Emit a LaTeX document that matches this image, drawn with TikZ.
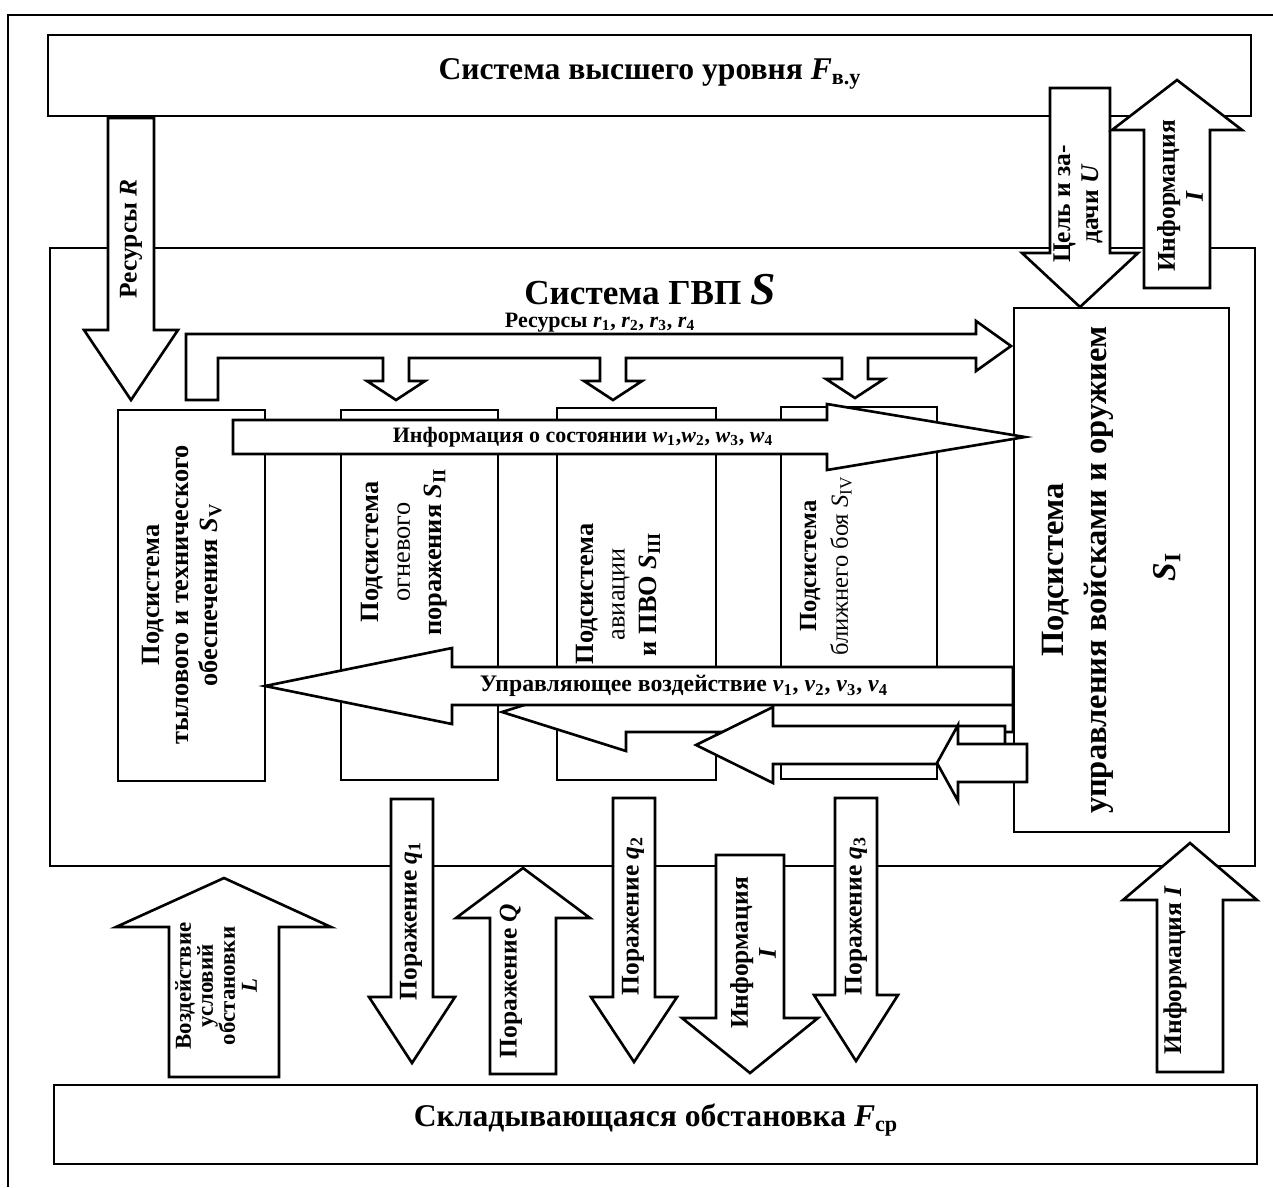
\documentclass[tikz,border=0pt]{standalone}
\usepackage{fontspec}
\setmainfont{Liberation Serif}
\usetikzlibrary{fit}
\newcommand{\symb}[2]{\textit{#1}\textsubscript{#2}}

\begin{document}
\begin{tikzpicture}[
    x=0.02cm, y=-0.02cm,
    line width=1.5pt,
    boxNode/.style={rectangle, draw, fill=white, inner sep=0pt, line width=1.5pt},
    blockArrow/.style={draw, fill=white, line width=1.5pt, line join=miter},
    titleText/.style={font=\fontsize{18}{21}\selectfont\bfseries, inner sep=0pt},
    subText/.style={font=\fontsize{15}{18}\selectfont\bfseries, align=center, rotate=90, inner sep=0pt},
    arrowText/.style={font=\fontsize{14.5}{16}\selectfont\bfseries, align=center, rotate=90, inner sep=0pt},
    busText/.style={font=\fontsize{12.5}{14}\selectfont\bfseries, inner sep=0pt}
  ]
    \useasboundingbox (0,0) rectangle (1273,1187);

    % page frame
    \draw (8,1187) |- (1273,15);

    % Outer systems and the GVP frame
    \node[boxNode, fit={(48,35) (1251,116)}] (upper) {};
    \node[boxNode, fit={(50,248) (1255,866)}] (gvp) {};
    \node[boxNode, fit={(54,1085) (1257,1164)}] (env) {};

    % Subsystems
    \node[boxNode, fit={(118,410) (265,781)}] (sv) {};
    \node[boxNode, fit={(341,410) (498,780)}] (sii) {};
    \node[boxNode, fit={(557,408) (716,780)}] (siii) {};
    \node[boxNode, fit={(781,407) (937,779)}] (siv) {};
    \node[boxNode, fit={(1014,308) (1229,832)}] (si) {};

    % Flows between upper system and GVP
    \draw[blockArrow] (108,118) -- (108,330) -- (84,330) -- (131,400) -- (178,330) -- (154,330) -- (154,118) -- cycle;
    \draw[blockArrow] (1050,88) -- (1050,253) -- (1022,253) -- (1080,307) -- (1138,253) -- (1110,253) -- (1110,88) -- cycle;
    \draw[blockArrow] (1144,288) -- (1144,130) -- (1112,130) -- (1177,80) -- (1242,130) -- (1210,130) -- (1210,288) -- cycle;

    % Resource bus r1..r4
    \draw[blockArrow] (186,400) -- (186,334) -- (976,334) -- (976,321) -- (1011,346) -- (976,371) -- (976,358)
      -- (868,358) -- (868,379) -- (884,379) -- (855,398) -- (826,379) -- (842,379) -- (842,358)
      -- (626,358) -- (626,381) -- (642,381) -- (613,400) -- (584,381) -- (600,381) -- (600,358)
      -- (409,358) -- (409,381) -- (425,381) -- (396,400) -- (367,381) -- (383,381) -- (383,358)
      -- (218,358) -- (218,400) -- cycle;

    % State information w1..w4
    \draw[blockArrow] (233,420) -- (827,420) -- (827,404) -- (1025,437) -- (827,470) -- (827,454) -- (233,454) -- cycle;

    % Control actions v1..v4
    \draw[blockArrow] (1013,692) -- (626,692) -- (626,673) -- (502,712) -- (626,751) -- (626,732) -- (1013,732) -- cycle;
    \draw[blockArrow] (1005,726) -- (773,726) -- (773,707) -- (696,745) -- (773,783) -- (773,764) -- (1005,764) -- cycle;
    \draw[blockArrow] (1027,744) -- (958,744) -- (958,725) -- (937,763) -- (958,801) -- (958,782) -- (1027,782) -- cycle;
    \draw[blockArrow] (1013,667) -- (452,667) -- (452,648) -- (265,686) -- (452,724) -- (452,705) -- (1013,705) -- cycle;

    % Flows between GVP and the environment
    \draw[blockArrow] (169,1077) -- (169,927) -- (116,927) -- (224,878) -- (331,927) -- (279,927) -- (279,1077) -- cycle;
    \draw[blockArrow] (391,799) -- (391,997) -- (369,997) -- (412,1063) -- (455,997) -- (433,997) -- (433,799) -- cycle;
    \draw[blockArrow] (490,1074) -- (490,918) -- (456,918) -- (523,868) -- (590,918) -- (556,918) -- (556,1074) -- cycle;
    \draw[blockArrow] (613,798) -- (613,997) -- (591,997) -- (634,1062) -- (677,997) -- (655,997) -- (655,798) -- cycle;
    \draw[blockArrow] (716,855) -- (716,1018) -- (682,1018) -- (750,1073) -- (818,1018) -- (784,1018) -- (784,855) -- cycle;
    \draw[blockArrow] (835,798) -- (835,995) -- (814,995) -- (856,1061) -- (898,995) -- (877,995) -- (877,798) -- cycle;
    \draw[blockArrow] (1157,1072) -- (1157,900) -- (1123,900) -- (1190,843) -- (1257,900) -- (1223,900) -- (1223,1072) -- cycle;

    % Titles
    \node[titleText] (upperTitle) at (650,74) {Система высшего уровня \symb{F}{в.у}};
    \node[font=\fontsize{20}{24}\selectfont\bfseries, inner sep=0pt] (gvpTitle) at (650,290) {Система ГВП {\fontsize{26}{28}\selectfont\textit{S}}};
    \node[titleText] (envTitle) at (656,1120) {Складывающаяся обстановка \symb{F}{ср}};

    % Labels on the horizontal flows
    \node[busText] (busLabel) at (600,323) {Ресурсы \symb{r}{1}, \symb{r}{2}, \symb{r}{3}, \symb{r}{4}};
    \node[busText] (infoLabel) at (583,437) {Информация о состоянии \symb{w}{1},\symb{w}{2}, \symb{w}{3}, \symb{w}{4}};
    \node[busText, font=\fontsize{13.5}{15}\selectfont\bfseries] (ctrlLabel) at (684,686) {Управляющее воздействие \symb{v}{1}, \symb{v}{2}, \symb{v}{3}, \symb{v}{4}};

    % Subsystem labels
    \node[subText, font=\fontsize{15}{16.5}\selectfont\bfseries] (svLabel) at (182,595) {Подсистема\\тылового и технического\\обеспечения \symb{S}{V}};
    \node[subText] (siiLabel) at (404,552) {Подсистема\\{\mdseries огневого}\\поражения \symb{S}{II}};
    \node[subText] (siiiLabel) at (618,594) {Подсистема\\{\mdseries авиации}\\и ПВО \symb{S}{III}};
    \node[subText, font=\fontsize{14}{18}\selectfont\bfseries] (sivLabel) at (826,566) {Подсистема\\{\mdseries ближнего боя \symb{S}{IV}}};
    \node[subText, font=\fontsize{18.5}{24.5}\selectfont\bfseries] (siLabel) at (1078,570) {Подсистема\\управления войсками и оружием};
    \node[subText, font=\fontsize{19}{22}\selectfont\bfseries] (siMark) at (1167,567) {\symb{S}{I}};

    % Labels on the vertical flows
    \node[arrowText] (resLabel) at (131,239) {Ресурсы \textit{R}};
    \node[arrowText] (goalLabel) at (1078,204) {Цель и за-\\дачи \textit{U}};
    \node[arrowText] (infoUpLabel) at (1180,196) {Информация\\\textit{I}};
    \node[arrowText, font=\fontsize{13}{12.5}\selectfont\bfseries] (envLabel) at (216,986) {Воздействие\\условий\\обстановки\\\textit{L}};
    \node[arrowText] (hitOneLabel) at (411,921) {Поражение \symb{q}{1}};
    \node[arrowText] (hitLabel) at (511,981) {Поражение \textit{Q}};
    \node[arrowText] (hitTwoLabel) at (633,916) {Поражение \symb{q}{2}};
    \node[arrowText] (infoDownLabel) at (753,953) {Информация\\\textit{I}};
    \node[arrowText] (hitThreeLabel) at (856,916) {Поражение \symb{q}{3}};
    \node[arrowText] (infoRightLabel) at (1175,970) {Информация \textit{I}};
\end{tikzpicture}
\end{document}
